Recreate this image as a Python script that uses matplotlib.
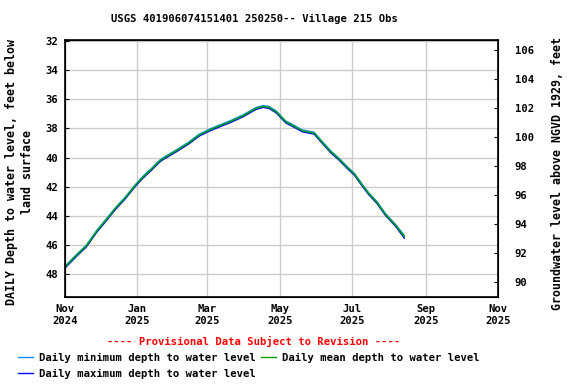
import datetime as dt

import matplotlib
matplotlib.use("Agg")
import matplotlib.dates as mdates
import matplotlib.pyplot as plt
from matplotlib.lines import Line2D


# Data (depth below land surface, feet)
DATES = [
    "2024-11-01", "2024-11-11", "2024-11-19", "2024-11-28", "2024-12-05",
    "2024-12-13", "2024-12-22", "2024-12-30", "2025-01-06", "2025-01-13",
    "2025-01-20", "2025-01-23", "2025-02-03", "2025-02-14", "2025-02-22",
    "2025-03-01", "2025-03-08", "2025-03-20", "2025-03-31", "2025-04-11",
    "2025-04-17", "2025-04-22", "2025-04-28", "2025-05-06", "2025-05-15",
    "2025-05-20", "2025-05-30", "2025-06-06", "2025-06-13", "2025-06-20",
    "2025-06-27", "2025-07-03", "2025-07-10", "2025-07-15", "2025-07-22",
    "2025-07-29", "2025-08-07", "2025-08-14",
]
DEPTH_MEAN = [
    47.54, 46.71, 46.09, 45.05, 44.37,
    43.56, 42.76, 41.95, 41.33, 40.80,
    40.23, 40.06, 39.53, 38.96, 38.46,
    38.18, 37.93, 37.54, 37.13, 36.62,
    36.48, 36.55, 36.85, 37.54, 37.93,
    38.16, 38.32, 38.97, 39.60, 40.11,
    40.69, 41.15, 41.95, 42.48, 43.10,
    43.90, 44.70, 45.45,
]
DEPTH_MIN = [
    47.48, 46.65, 46.03, 44.99, 44.31,
    43.50, 42.70, 41.89, 41.27, 40.74,
    40.17, 40.00, 39.47, 38.90, 38.40,
    38.12, 37.87, 37.48, 37.07, 36.56,
    36.42, 36.49, 36.79, 37.48, 37.87,
    38.10, 38.26, 38.91, 39.54, 40.05,
    40.63, 41.09, 41.89, 42.42, 43.04,
    43.84, 44.64, 45.36,
]
DEPTH_MAX = [
    47.61, 46.78, 46.16, 45.12, 44.44,
    43.63, 42.83, 42.02, 41.40, 40.87,
    40.30, 40.13, 39.60, 39.03, 38.53,
    38.25, 38.00, 37.61, 37.20, 36.69,
    36.55, 36.62, 36.92, 37.61, 38.00,
    38.23, 38.39, 39.04, 39.67, 40.18,
    40.76, 41.22, 42.02, 42.55, 43.17,
    43.97, 44.77, 45.55,
]

LAND_SURFACE = 138.6  # feet above NGVD 1929
DEPTH_TICKS = [32, 34, 36, 38, 40, 42, 44, 46, 48]
ELEV_TICKS = [90, 92, 94, 96, 98, 100, 102, 104, 106]

TITLE = "USGS 401906074151401 250250-- Village 215 Obs"
FONT = "DejaVu Sans Mono"


def to_dates(strings):
    return [dt.datetime.strptime(s, "%Y-%m-%d") for s in strings]


def main():
    dates = to_dates(DATES)

    plt.rcParams["font.family"] = FONT
    plt.rcParams["font.weight"] = "bold"
    plt.rcParams["font.size"] = 7.6

    fig = plt.figure(figsize=(5.76, 3.84), dpi=100)
    ax = fig.add_axes([0.1128, 0.2266, 0.7518, 0.6704])

    c_min = "#0a8cf0"
    c_mean = "#00a000"
    c_max = "#0000ff"
    ax.plot(dates, DEPTH_MAX, color=c_max, lw=1)
    ax.plot(dates, DEPTH_MIN, color=c_min, lw=1)
    ax.plot(dates, DEPTH_MEAN, color=c_mean, lw=1)

    ymin, ymax = 31.88, 49.6
    ax.set_ylim(ymax, ymin)
    ax.set_yticks(DEPTH_TICKS)
    ax.set_xlim(dt.datetime(2024, 11, 1), dt.datetime(2025, 11, 1))
    ax.xaxis.set_major_locator(mdates.MonthLocator(bymonth=[1, 3, 5, 7, 9, 11]))
    ax.xaxis.set_major_formatter(mdates.DateFormatter("%b\n%Y"))
    ax.grid(True, color="#cccccc", lw=1)
    ax.set_axisbelow(True)
    ax.tick_params(direction="in", length=3, pad=5)
    ax.tick_params(axis="x", length=0, pad=5)
    for sp in ax.spines.values():
        sp.set_linewidth(1.2)

    ax.set_ylabel("DAILY Depth to water level, feet below\nland surface",
                  fontweight="bold", fontsize=8.4, linespacing=1.3,
                  va="center")
    ax.yaxis.set_label_coords(-0.1045, 0.486)

    ax2 = ax.twinx()
    ax2.set_ylim(LAND_SURFACE - ymax, LAND_SURFACE - ymin)
    ax2.set_yticks(ELEV_TICKS)
    ax2.tick_params(direction="in", length=3, pad=12)
    ax2.set_ylabel("Groundwater level above NGVD 1929, feet",
                   fontweight="bold", fontsize=8.4, va="center")
    ax2.yaxis.set_label_coords(1.138, 0.48)

    fig.text(0.442, 0.95, TITLE, ha="center", va="center", fontweight="bold")
    fig.text(0.441, 0.11, "---- Provisional Data Subject to Revision ----",
             ha="center", va="center", color="red", fontweight="bold")

    handles = [
        Line2D([], [], color=c_min, lw=1),
        Line2D([], [], color=c_max, lw=1),
        Line2D([], [], color=c_mean, lw=1),
    ]
    labels = [
        "Daily minimum depth to water level",
        "Daily maximum depth to water level",
        "Daily mean depth to water level",
    ]
    fig.legend(handles, labels, ncol=2, loc="upper left",
               bbox_to_anchor=(0.031, 0.081), frameon=False,
               handlelength=1.42, handletextpad=0.57, columnspacing=0.47,
               labelspacing=0.55, borderaxespad=0, borderpad=0)

    fig.savefig("out.png", dpi=100)


if __name__ == "__main__":
    main()
